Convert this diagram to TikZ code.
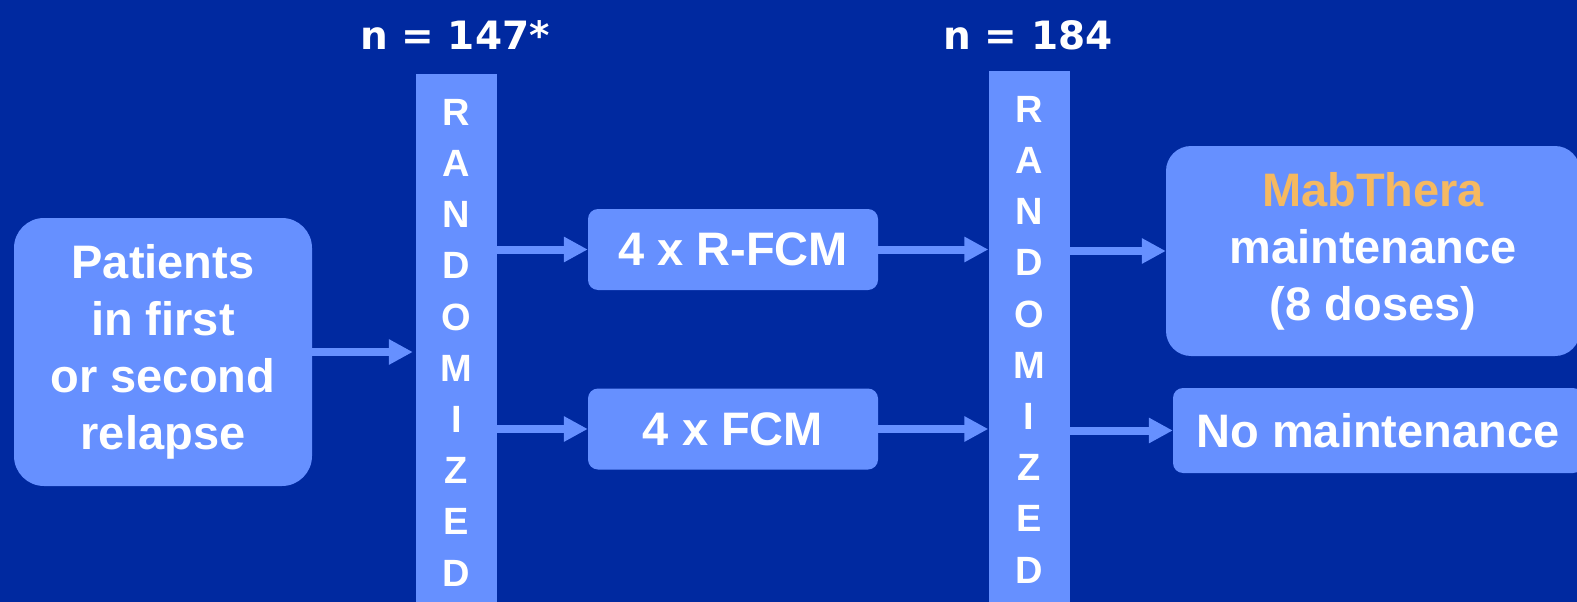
\documentclass[tikz,border=0pt]{standalone}
\usepackage{fontspec}
\setsansfont{Liberation Sans}
\newfontfamily\countfont{DejaVu Sans}
\usetikzlibrary{arrows.meta,positioning,calc}
\definecolor{slidebg}{HTML}{0029A0}
\definecolor{boxblue}{HTML}{6690FF}
\definecolor{mabgold}{HTML}{F5B961}
\tikzset{
    flow/.style  = {-{Triangle[length=24pt,width=24pt]}, line width=8pt, draw=boxblue},
    block/.style = {rectangle, fill=boxblue, text=white, align=center, inner sep=0pt,
                    font=\sffamily\bfseries\fontsize{47}{57}\selectfont},
    armblock/.style = {block, minimum width=290pt, minimum height=81pt, rounded corners=10pt},
    randbar/.style  = {rectangle, fill=boxblue, text=white, align=center, anchor=north,
                       minimum width=81pt, inner xsep=0pt, inner ysep=25pt,
                       font=\sffamily\bfseries\fontsize{38}{51.2}\selectfont},
    countlabel/.style = {text=white, font=\countfont\bfseries\fontsize{39}{39}\selectfont}
}

\begin{document}
\begin{tikzpicture}[x=1pt, y=-1pt]
    % --- Slide background ---
    \fill[slidebg] (0,0) rectangle (1577,602);
    \useasboundingbox (0,0) rectangle (1577,602);
    \clip (0,0) rectangle (1577,602);

    % --- Randomization bars ---
    \node[randbar] (rand1) at (456.5, 74) {R\\A\\N\\D\\O\\M\\I\\Z\\E\\D};
    \node[randbar] (rand2) at (1029, 71) {R\\A\\N\\D\\O\\M\\I\\Z\\E\\D};
    \node[countlabel] (n1) at (455, 35) {n = 147*};
    \node[countlabel] (n2) at (1028, 35) {n = 184};

    % --- Boxes ---
    \node[block, minimum width=298pt, minimum height=268pt, rounded corners=30pt] (patients) at (163, 352)
        {Patients\\in first\\or second\\relapse};
    \node[armblock] (rfcm) at (733, 249.5) {4 x R-FCM};
    \node[armblock] (fcm) at (733, 429) {4 x FCM};
    \node[block, minimum width=414pt, minimum height=210pt, rounded corners=25pt] (mab) at (1373, 251)
        {{\color{mabgold}MabThera}\\maintenance\\(8 doses)};
    \node[block, minimum width=410pt, minimum height=85pt, rounded corners=10pt] (nomaint) at (1378, 430.5)
        {No maintenance};

    % --- Connections ---
    \draw[flow, shorten >=3pt] (patients.east) -- (patients.east -| rand1.west);
    \draw[flow] (rfcm.west -| rand1.east) -- (rfcm.west);
    \draw[flow] (fcm.west -| rand1.east) -- (fcm.west);
    \draw[flow] (rfcm.east) -- (rfcm.east -| rand2.west);
    \draw[flow] (fcm.east) -- (fcm.east -| rand2.west);
    \draw[flow] (mab.west -| rand2.east) -- (mab.west);
    \draw[flow] (nomaint.west -| rand2.east) -- (nomaint.west);
\end{tikzpicture}
\end{document}
